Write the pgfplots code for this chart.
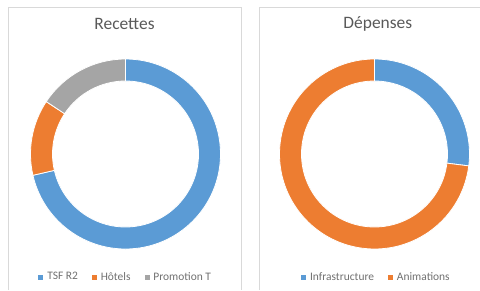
\documentclass[border=0pt]{standalone}
\usepackage{pgfplots}
\pgfplotsset{compat=1.18}
\usepackage{pgfplotstable}
\usepackage{fontspec}
\setmainfont{Carlito}
\definecolor{cBlue}{HTML}{5B9BD5}
\definecolor{cOrange}{HTML}{ED7D31}
\definecolor{cGray}{HTML}{A5A5A5}
\definecolor{txt}{HTML}{595959}
\definecolor{ltxt}{HTML}{707070}
\definecolor{frame}{HTML}{D9D9D9}

\pgfplotstableread{
label value
TSF 71.4
Hotels 12.9
Promo 15.7
}\recettes
\pgfplotstableread{
label value
Infra 27
Anim 73
}\depenses

\newcommand{\Ro}{95}
\newcommand{\Ri}{73}
% #1 colour, #2 start fraction, #3 end fraction
\newcommand{\slice}[3]{%
  \pgfmathsetmacro\aS{90-360*#2}%
  \pgfmathsetmacro\aE{90-360*#3}%
  \edef\tmp{\noexpand\fill[#1,draw=white,line width=0.8bp]
    (axis cs:{\Ro*cos(\aS)},{\Ro*sin(\aS)})
    arc[start angle=\aS,end angle=\aE,radius=\Ro bp]
    -- (axis cs:{\Ri*cos(\aE)},{\Ri*sin(\aE)})
    arc[start angle=\aE,end angle=\aS,radius=\Ri bp] -- cycle;}%
  \tmp}

\pgfplotsset{
  donut/.style={
    x=1bp, y=1bp, anchor=origin, hide axis, clip=false,
    ymin=-136, ymax=147,
    title style={anchor=center, font=\fontsize{17.5}{20}\selectfont, text=txt},
    legend columns=-1,
    legend style={draw=none, fill=none, anchor=center,
      font=\fontsize{11.5}{13}\selectfont, text=ltxt,
      /tikz/every odd column/.append style={column sep=2.5bp},
      /tikz/every even column/.append style={column sep=12bp},
      inner sep=0pt},
    legend image code/.code={\fill[##1] (0bp,-2bp) rectangle (4bp,2bp);},
  }
}

\begin{document}
\begin{tikzpicture}[x=1bp,y=1bp]
\useasboundingbox (0,0) rectangle (480,290);
% cumulative fractions, Recettes
\pgfplotstablegetelem{0}{value}\of\recettes \edef\rA{\pgfplotsretval}
\pgfplotstablegetelem{1}{value}\of\recettes \edef\rB{\pgfplotsretval}
\pgfplotstablegetelem{2}{value}\of\recettes \edef\rC{\pgfplotsretval}
\pgfmathsetmacro\rT{\rA+\rB+\rC}
\pgfmathsetmacro\rcA{\rA/\rT}
\pgfmathsetmacro\rcB{(\rA+\rB)/\rT}
% Depenses
\pgfplotstablegetelem{0}{value}\of\depenses \edef\dA{\pgfplotsretval}
\pgfplotstablegetelem{1}{value}\of\depenses \edef\dB{\pgfplotsretval}
\pgfmathsetmacro\dT{\dA+\dB}
\pgfmathsetmacro\dcA{\dA/\dT}

\begin{axis}[donut, at={(125.5,136)}, xmin=-117.5, xmax=115.5,
  title={Recettes}, title style={at={(0.5,0.919)}},
  legend style={at={(0.505,0.046)}}]
  \draw[frame] (rel axis cs:0,0) -- (rel axis cs:0,1) -- (rel axis cs:1,1) -- (rel axis cs:1,0);
  \slice{cBlue}{0}{\rcA}
  \slice{cOrange}{\rcA}{\rcB}
  \slice{cGray}{\rcB}{1}
  \addlegendimage{cBlue}\addlegendentry{TSF R2}
  \addlegendimage{cOrange}\addlegendentry{Hôtels}
  \addlegendimage{cGray}\addlegendentry{Promotion T}
\end{axis}

\begin{axis}[donut, at={(374.5,136)}, xmin=-115.5, xmax=117.5,
  title={Dépenses}, title style={at={(0.51,0.919)}},
  legend style={at={(0.504,0.046)}}]
  \draw[frame] (rel axis cs:0,0) -- (rel axis cs:0,1) -- (rel axis cs:1,1) -- (rel axis cs:1,0);
  \slice{cBlue}{0}{\dcA}
  \slice{cOrange}{\dcA}{1}
  \addlegendimage{cBlue}\addlegendentry{Infrastructure}
  \addlegendimage{cOrange}\addlegendentry{Animations}
\end{axis}
\end{tikzpicture}
\end{document}
